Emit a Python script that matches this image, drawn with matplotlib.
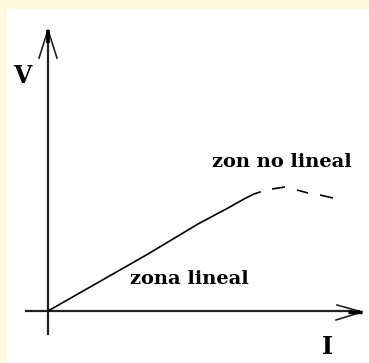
import matplotlib
matplotlib.use("Agg")
import matplotlib.pyplot as plt
from matplotlib.patches import Rectangle

# Data (origin of the I-V axes at 0,0; units ~ pixels of the sketch)
curve_I_linear = [0, 100, 150, 180, 196, 206, 212]
curve_V_linear = [0, 57, 87, 103, 112, 117, 119]
# non-linear zone drawn as dashes: pairs of (start, end) points
curve_I_nonlinear = [224, 237, 249, 260, 272, 285]
curve_V_nonlinear = [122, 124, 121, 118, 116, 113]
label_V = "V"
label_I = "I"
text_linear = "zona lineal"
text_nonlinear = "zon no lineal"

W, H = 369, 363
fig = plt.figure(figsize=(W / 100, H / 100), dpi=100)
fig.patch.set_facecolor("white")
cream = "#fff8e1"
fig.patches.append(Rectangle((0, 1 - 9 / H), 1, 9 / H, transform=fig.transFigure,
                             facecolor=cream, edgecolor="none", zorder=0))
fig.patches.append(Rectangle((0, 0), 7 / W, 1, transform=fig.transFigure,
                             facecolor=cream, edgecolor="none", zorder=0))

ax = fig.add_axes([0, 0, 1, 1])
ax.set_xlim(-48, W - 48)
ax.set_ylim(-(H - 311), 311)
ax.axis("off")
ax.patch.set_alpha(0)

axc = "#222222"
# axes
ax.plot([0, 0], [-24, 280], color=axc, lw=1.6, solid_capstyle="butt")
ax.plot([-23, 312], [0, 0], color=axc, lw=1.6, solid_capstyle="butt")
# arrowheads
ax.plot([-9, 0, 9], [253, 281, 253], color=axc, lw=1.2)
ax.plot([0, 0], [268, 281], color="black", lw=2.6, solid_capstyle="butt")
ax.plot([289, 314, 288], [6, -1, -9], color=axc, lw=1.2)
ax.plot([300, 314], [-1, -1], color="black", lw=2.4, solid_capstyle="butt")

# curve
ax.plot(curve_I_linear, curve_V_linear, color="black", lw=1.2)
for i in range(0, len(curve_I_nonlinear) - 1, 2):
    ax.plot(curve_I_nonlinear[i:i + 2], curve_V_nonlinear[i:i + 2],
            color="black", lw=1.2, solid_capstyle="butt")

fnt = dict(family="DejaVu Serif", weight="bold", color="black")
ax.text(-26, 235, label_V, ha="center", va="center", fontsize=17, **fnt)
ax.text(279, -36, label_I, ha="center", va="center", fontsize=17, **fnt)
ax.text(141, 32, text_linear, ha="center", va="center", fontsize=14, **fnt)
ax.text(234, 149, text_nonlinear, ha="center", va="center", fontsize=14, **fnt)

fig.savefig("out.png", dpi=100)
